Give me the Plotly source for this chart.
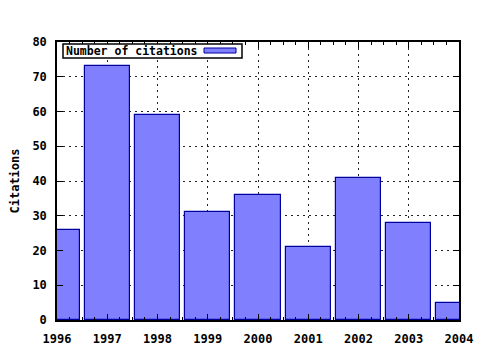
import plotly.graph_objects as go

years = [1996, 1997, 1998, 1999, 2000, 2001, 2002, 2003, 2004]
citations = [26, 73, 59, 31, 36, 21, 41, 28, 5]
series_name = "Number of citations"
y_title = "Citations"

BOLD = dict(family="DejaVu Sans Mono", size=12, color="black", weight="bold")

fig = go.Figure()
fig.add_trace(go.Bar(
    x=years, y=citations, width=0.9, name=series_name,
    marker=dict(color="#8080ff", line=dict(color="#0000a0", width=1.2)),
    showlegend=False,
))

axis_common = dict(
    showline=True, linecolor="black", linewidth=1.5, mirror="allticks",
    ticks="inside", ticklen=6, tickcolor="black", tickwidth=1,
    showgrid=True, gridcolor="#222222", griddash="2px,4px", gridwidth=1,
    zeroline=False, tickfont=BOLD, automargin=False,
)

fig.update_xaxes(
    range=[1996, 2004], tickmode="array", tickvals=years,
    ticktext=[str(y) for y in years],
    minor=dict(dtick=0.25, ticks="inside", ticklen=3, tickcolor="black", showgrid=False),
    ticklabelstandoff=7,
    **axis_common,
)
fig.update_yaxes(
    range=[0, 80], dtick=10, ticklabelstandoff=6,
    title=dict(text=y_title, font=BOLD, standoff=10),
    **axis_common,
)

# legend box (gnuplot style)
fig.add_shape(type="rect", xref="paper", yref="paper",
              x0=(63 - 57) / 402, x1=(242 - 57) / 402,
              y0=1 - (58 - 42) / 278, y1=1 - (44 - 42) / 278,
              line=dict(color="black", width=1.5), fillcolor="white", layer="above")
fig.add_shape(type="rect", xref="paper", yref="paper",
              x0=(204 - 57) / 402, x1=(236 - 57) / 402,
              y0=1 - (53 - 42) / 278, y1=1 - (48 - 42) / 278,
              line=dict(color="#0000a0", width=1), fillcolor="#8080ff", layer="above")
fig.add_annotation(text=series_name, xref="paper", yref="paper",
                   x=(64 - 57) / 402, y=1 - (51 - 42) / 278,
                   xanchor="left", yanchor="middle", showarrow=False,
                   font=dict(family="DejaVu Sans Mono", size=11.5, color="black", weight="bold"))

fig.update_layout(
    width=480, height=350,
    margin=dict(l=57, r=21, t=42, b=30),
    paper_bgcolor="white", plot_bgcolor="white",
    font=BOLD, bargap=0,
)

fig.write_html("out.html")
